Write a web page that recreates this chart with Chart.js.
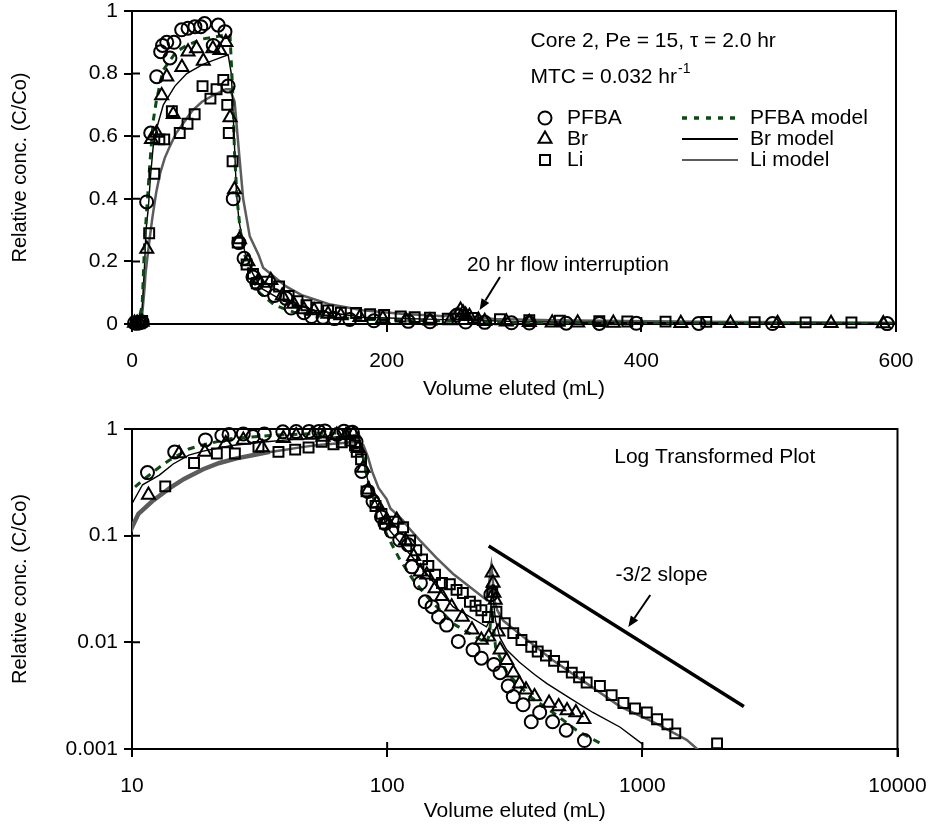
<!DOCTYPE html>
<html>
<head>
<meta charset="utf-8">
<script src="https://cdn.jsdelivr.net/npm/chart.js"></script>
<style>
  html, body { margin: 0; padding: 0; background: #fff; }
  #wrap { position: relative; width: 937px; height: 831px; }
  #linear-chart { position: absolute; left: 0; top: 0; }
  #log-chart { position: absolute; left: 0; top: 410px; }
</style>
</head>
<body>
<div id="wrap">
  <canvas id="linear-chart" width="937" height="410"></canvas>
  <canvas id="log-chart" width="937" height="421"></canvas>
</div>
<script>
/* ==========================
   Data (volume in mL, relative conc. C/Co)
========================== */
const pfbaVol = [2, 4, 6, 8, 11.5, 14.7, 19.4, 22.5, 24, 27.3, 29.8, 33, 39, 44, 49.4, 54, 57, 63.8, 67.7, 73, 75.5, 79.5, 84, 88, 95, 98, 104, 112, 121, 125, 135, 141, 150, 159, 171, 190, 217, 234, 255, 262, 277, 298, 312, 341, 367, 396, 445, 503, 593];
const pfbaConc = [0.003, 0.002, 0.004, 0.006, 0.39, 0.61, 0.79, 0.87, 0.89, 0.90, 0.85, 0.90, 0.94, 0.945, 0.95, 0.95, 0.96, 0.89, 0.955, 0.934, 0.76, 0.40, 0.26, 0.21, 0.15, 0.13, 0.11, 0.091, 0.082, 0.051, 0.036, 0.024, 0.0216, 0.0173, 0.0145, 0.0102, 0.0085, 0.0071, 0.028, 0.0062, 0.0052, 0.0039, 0.0031, 0.0026, 0.0018, 0.0022, 0.0018, 0.0015, 0.0012];

const brVol = [2, 4, 6, 8, 11.6, 15.3, 19.3, 23.3, 27.3, 32.4, 39.2, 44, 50.7, 56, 63.5, 69, 73.7, 77, 80.5, 84.4, 91, 99.5, 109, 118, 127, 135, 143, 154, 164, 179, 197, 215, 234, 250, 258, 260, 262, 265, 272, 277, 294, 312, 330, 350, 378, 431, 470, 507, 549, 590];
const brConc = [0.003, 0.003, 0.004, 0.006, 0.24, 0.59, 0.61, 0.73, 0.79, 0.67, 0.82, 0.87, 0.88, 0.84, 0.88, 0.875, 0.90, 0.66, 0.43, 0.27, 0.20, 0.14, 0.14, 0.09, 0.064, 0.046, 0.043, 0.032, 0.027, 0.0216, 0.0173, 0.0131, 0.0105, 0.0113, 0.045, 0.036, 0.029, 0.025, 0.0126, 0.0085, 0.0068, 0.0052, 0.0041, 0.0036, 0.0031, 0.0027, 0.0025, 0.0023, 0.0022, 0.0019];

const liVol = [3, 6, 8, 13.5, 17.5, 21.5, 25.3, 31.3, 37.5, 43.6, 49.2, 55.4, 61.6, 66.4, 71.7, 74.8, 76, 79, 83, 90, 95, 98, 106, 115.5, 123, 130, 137, 145, 154, 164, 176, 187, 198, 211, 222, 234, 248, 258, 268, 289, 312, 336, 367, 389, 419, 451, 489, 529, 565, 605, 682, 758, 843, 936, 1041, 1142, 1254, 1346, 1963];
const liConc = [0.005, 0.006, 0.01, 0.29, 0.48, 0.59, 0.59, 0.68, 0.61, 0.64, 0.67, 0.76, 0.72, 0.75, 0.78, 0.70, 0.61, 0.52, 0.26, 0.19, 0.16, 0.13, 0.135, 0.12, 0.09, 0.073, 0.06, 0.052, 0.043, 0.036, 0.035, 0.031, 0.029, 0.024, 0.022, 0.020, 0.0173, 0.03, 0.0194, 0.0151, 0.0122, 0.0105, 0.0091, 0.0082, 0.0075, 0.0067, 0.0059, 0.0052, 0.0047, 0.0042, 0.0039, 0.0032, 0.0027, 0.0024, 0.0022, 0.0019, 0.0017, 0.0014, 0.00113];

const pfbaModelVol = [1, 5, 8, 10, 11, 12.5, 14, 16.7, 19, 24.3, 34.7, 43, 54.5, 69, 75, 77, 79, 80.5, 82.5, 85, 88, 92, 100, 112, 127, 143, 181, 245, 252, 256, 260, 266, 294, 363, 446, 552, 703];
const pfbaModelConc = [0.0001, 0.005, 0.06, 0.27, 0.33, 0.42, 0.51, 0.65, 0.71, 0.81, 0.87, 0.89, 0.91, 0.92, 0.925, 0.92, 0.75, 0.55, 0.40, 0.30, 0.23, 0.17, 0.10, 0.06, 0.038, 0.027, 0.015, 0.0098, 0.012, 0.02, 0.015, 0.009, 0.0052, 0.0031, 0.0022, 0.0015, 0.00109];

const brModelVol = [1, 5, 8, 10, 11, 12.8, 14.5, 16.7, 19, 24.6, 33.7, 43, 56, 69, 75.5, 78, 80, 82, 84, 88.6, 95, 102, 119, 143, 181, 245, 252, 256, 258, 261, 266, 277, 294, 330, 378, 423, 520, 640, 819, 1008];
const brModelConc = [0.0001, 0.005, 0.05, 0.2, 0.3, 0.37, 0.47, 0.57, 0.62, 0.70, 0.76, 0.80, 0.83, 0.85, 0.86, 0.80, 0.62, 0.42, 0.33, 0.23, 0.16, 0.113, 0.073, 0.044, 0.0216, 0.014, 0.016, 0.025, 0.035, 0.024, 0.016, 0.011, 0.0085, 0.0065, 0.005, 0.0041, 0.003, 0.0022, 0.0016, 0.0011];

const liModelVol = [1, 5, 8, 10, 10.6, 12, 14.1, 16, 19, 22, 25.7, 30, 34.7, 40, 47, 55, 63.5, 73.6, 77, 80.6, 84, 87.3, 92.5, 99.5, 103, 115, 121, 134, 156, 181, 211, 245, 250, 253, 256, 259, 263, 270, 285, 330, 446, 607, 819, 1101, 1491, 1665];
const liModelConc = [0.0001, 0.002, 0.03, 0.12, 0.16, 0.21, 0.28, 0.34, 0.42, 0.48, 0.53, 0.57, 0.61, 0.64, 0.68, 0.71, 0.73, 0.75, 0.75, 0.71, 0.55, 0.40, 0.28, 0.22, 0.18, 0.14, 0.12, 0.091, 0.062, 0.044, 0.033, 0.025, 0.03, 0.045, 0.053, 0.04, 0.025, 0.02, 0.016, 0.012, 0.0068, 0.0041, 0.0025, 0.0018, 0.00122, 0.00097];

// -3/2 reference line on the log plot
const slopeVol = [250, 2500];
const slopeConc = [0.08, 0.0025];

// Tick labels
const linXTicks = [0, 200, 400, 600];
const linYTicks = [0, 0.2, 0.4, 0.6, 0.8, 1];
const logXTicks = [10, 100, 1000, 10000];
const logYTicks = [0.001, 0.01, 0.1, 1];

/* ==========================
   Styling helpers
========================== */
const FONT = "'Liberation Sans', Arial, sans-serif";
Chart.defaults.font.family = FONT;
Chart.defaults.font.size = 21;
Chart.defaults.color = '#000';

const GREEN = '#0b4a12';
const GREY = '#5c5c5c';

const toPoints = (xs, ys) => xs.map((x, i) => ({ x: x, y: ys[i] }));

function markerSet(label, xs, ys, style, radius, clip) {
  return {
    label: label,
    data: toPoints(xs, ys),
    showLine: false,
    pointStyle: style,
    pointRadius: radius,
    pointBorderWidth: 2,
    pointBorderColor: '#000',
    pointBackgroundColor: 'rgba(0,0,0,0)',
    clip: clip,
  };
}

function lineSet(label, xs, ys, color, width, dash, extra) {
  return Object.assign({
    label: label,
    data: toPoints(xs, ys),
    showLine: true,
    pointRadius: 0,
    borderColor: color,
    borderWidth: width,
    borderDash: dash,
    tension: 0,
    clip: 0,
  }, extra || {});
}

function buildDatasets(isLog) {
  const clip = isLog ? { left: 0, right: 0, top: 10, bottom: 10 } : { left: 10, right: 0, top: 10, bottom: 10 };
  const sets = [
    markerSet('PFBA', pfbaVol, pfbaConc, 'circle', 6.5, clip),
    markerSet('Br', brVol, brConc, 'triangle', 7.5, clip),
    markerSet('Li', liVol, liConc, 'rect', 7, clip),
    lineSet('PFBA model', pfbaModelVol, pfbaModelConc, GREEN, 3, [7, 6]),
    lineSet('Br model', brModelVol, brModelConc, '#000', 1.4, []),
    lineSet('Li model', liModelVol, liModelConc, GREY, 2.5, [], isLog ? {
      segment: { borderWidth: c => (c.p1.parsed.x < 40 ? 4.5 : 2.5) }
    } : {}),
  ];
  if (isLog) sets.push(lineSet('-3/2 slope', slopeVol, slopeConc, '#000', 3.5, []));
  return sets;
}

function axis(type, min, max, tickList, fit, titleText, titleSize, titlePad, tickPad) {
  return {
    type: type,
    min: min,
    max: max,
    afterBuildTicks: s => { s.ticks = tickList.map(v => ({ value: v })); },
    afterFit: fit,
    ticks: { callback: v => String(v), padding: tickPad, autoSkip: false, maxRotation: 0, font: { size: 21 } },
    grid: { display: true, drawOnChartArea: false, drawTicks: true, tickLength: 8, color: '#000', lineWidth: 2 },
    border: { display: true, color: '#000', width: 2 },
    title: { display: true, text: titleText, padding: titlePad, font: { size: titleSize } },
  };
}

/* ==========================
   Plugins: frame + inner ticks, text / arrows / legend
========================== */
const framePlugin = {
  id: 'frame',
  afterDatasetsDraw(chart) {
    const { ctx, chartArea: a, scales } = chart;
    ctx.save();
    ctx.strokeStyle = '#000';
    ctx.lineWidth = 2;
    ctx.beginPath();
    ctx.moveTo(a.left - 1, a.top);
    ctx.lineTo(a.right, a.top);
    ctx.lineTo(a.right, a.bottom + 8);
    scales.x.ticks.forEach(t => {
      const px = scales.x.getPixelForValue(t.value);
      ctx.moveTo(px, a.bottom);
      ctx.lineTo(px, a.bottom - 7);
    });
    scales.y.ticks.forEach(t => {
      const py = scales.y.getPixelForValue(t.value);
      ctx.moveTo(a.left, py);
      ctx.lineTo(a.left + 8, py);
    });
    ctx.stroke();
    ctx.restore();
  }
};

function drawArrow(ctx, x0, y0, x1, y1) {
  const ang = Math.atan2(y1 - y0, x1 - x0);
  const len = 11, half = 4.5;
  const bx = x1 - Math.cos(ang) * len, by = y1 - Math.sin(ang) * len;
  ctx.beginPath();
  ctx.moveTo(x0, y0);
  ctx.lineTo(bx, by);
  ctx.lineWidth = 2;
  ctx.stroke();
  ctx.beginPath();
  ctx.moveTo(x1, y1);
  ctx.lineTo(bx + Math.sin(ang) * half, by - Math.cos(ang) * half);
  ctx.lineTo(bx - Math.sin(ang) * half, by + Math.cos(ang) * half);
  ctx.closePath();
  ctx.fill();
}

function drawMarker(ctx, style, x, y) {
  ctx.beginPath();
  if (style === 'circle') {
    ctx.arc(x, y, 6.5, 0, Math.PI * 2);
  } else if (style === 'triangle') {
    const r = 7.5;
    ctx.moveTo(x, y - r);
    ctx.lineTo(x + r * 0.866, y + r / 2);
    ctx.lineTo(x - r * 0.866, y + r / 2);
    ctx.closePath();
  } else {
    const h = 5;
    ctx.rect(x - h, y - h, 2 * h, 2 * h);
  }
  ctx.lineWidth = 2;
  ctx.stroke();
}

// notes: text anchored in data units, arrows from/to in data units
const notesPlugin = {
  id: 'notes',
  afterDraw(chart, args, opts) {
    const { ctx, scales: { x, y } } = chart;
    ctx.save();
    ctx.fillStyle = '#000';
    ctx.strokeStyle = '#000';
    ctx.textBaseline = 'middle';
    ctx.font = '21px ' + FONT;
    (opts.texts || []).forEach(t => {
      const px = x.getPixelForValue(t.x), py = y.getPixelForValue(t.y);
      ctx.font = '21px ' + FONT;
      ctx.fillText(t.text, px, py);
      if (t.sup) {
        const w = ctx.measureText(t.text).width;
        ctx.font = '14px ' + FONT;
        ctx.fillText(t.sup, px + w + 1, py - 8);
      }
    });
    (opts.arrows || []).forEach(a => {
      drawArrow(ctx, x.getPixelForValue(a.from[0]), y.getPixelForValue(a.from[1]),
        x.getPixelForValue(a.to[0]), y.getPixelForValue(a.to[1]));
    });
    if (opts.legend) {
      const L = opts.legend;
      ctx.font = '21px ' + FONT;
      L.rows.forEach((r, i) => {
        const py = L.top + i * L.step;
        drawMarker(ctx, r.marker, L.markerX, py);
        ctx.fillText(r.label, L.textX, py);
        ctx.save();
        ctx.strokeStyle = r.color;
        ctx.lineWidth = r.width;
        ctx.setLineDash(r.dash);
        ctx.beginPath();
        ctx.moveTo(L.lineX0, py);
        ctx.lineTo(L.lineX1, py);
        ctx.stroke();
        ctx.restore();
        ctx.fillText(r.model, L.modelX, py);
      });
    }
    ctx.restore();
  }
};

/* ==========================
   Top chart: linear axes
========================== */
new Chart(document.getElementById('linear-chart').getContext('2d'), {
  type: 'scatter',
  data: { datasets: buildDatasets(false) },
  options: {
    responsive: false,
    animation: false,
    layout: { padding: { top: 11, right: 41, bottom: 0, left: 0 } },
    scales: {
      x: axis('linear', 0, 600, linXTicks, s => { s.height = 86; s.paddingLeft = 0; s.paddingRight = 0; },
        'Volume eluted (mL)', 21, { top: 0, bottom: 8 }, 17),
      y: axis('linear', 0, 1, linYTicks, s => { s.width = 132; s.paddingTop = 0; s.paddingBottom = 0; },
        'Relative conc. (C/Co)', 20, { top: 8, bottom: 0 }, 6),
    },
    plugins: {
      legend: { display: false },
      tooltip: { enabled: false },
      notes: {
        texts: [
          { text: 'Core 2, Pe = 15, \u03C4 = 2.0 hr', x: 313, y: 0.905 },
          { text: 'MTC = 0.032 hr', sup: '-1', x: 313, y: 0.79 },
          { text: '20 hr flow interruption', x: 263, y: 0.188 },
        ],
        arrows: [ { from: [289, 0.15], to: [273, 0.045] } ],
        legend: {
          top: 118, step: 21, markerX: 545, textX: 567, lineX0: 682, lineX1: 738, modelX: 750,
          rows: [
            { marker: 'circle', label: 'PFBA', model: 'PFBA model', color: GREEN, width: 3.5, dash: [5, 7] },
            { marker: 'triangle', label: 'Br', model: 'Br model', color: '#000', width: 2, dash: [] },
            { marker: 'rect', label: 'Li', model: 'Li model', color: GREY, width: 2, dash: [] },
          ]
        }
      }
    }
  },
  plugins: [framePlugin, notesPlugin]
});

/* ==========================
   Bottom chart: log-log axes
========================== */
new Chart(document.getElementById('log-chart').getContext('2d'), {
  type: 'scatter',
  data: { datasets: buildDatasets(true) },
  options: {
    responsive: false,
    animation: false,
    layout: { padding: { top: 19, right: 39.5, bottom: 0, left: 0 } },
    scales: {
      x: axis('logarithmic', 10, 10000, logXTicks, s => { s.height = 82; s.paddingLeft = 0; s.paddingRight = 0; },
        'Volume eluted (mL)', 21, { top: 0, bottom: 7 }, 17),
      y: axis('logarithmic', 0.001, 1, logYTicks, s => { s.width = 132; s.paddingTop = 0; s.paddingBottom = 0; },
        'Relative conc. (C/Co)', 20, { top: 8, bottom: 0 }, 6),
    },
    plugins: {
      legend: { display: false },
      tooltip: { enabled: false },
      notes: {
        texts: [
          { text: 'Log Transformed Plot', x: 776, y: 0.547 },
          { text: '-3/2 slope', x: 785, y: 0.0428 },
        ],
        arrows: [ { from: [1074, 0.0278], to: [881, 0.0139] } ]
      }
    }
  },
  plugins: [framePlugin, notesPlugin]
});
</script>
</body>
</html>
